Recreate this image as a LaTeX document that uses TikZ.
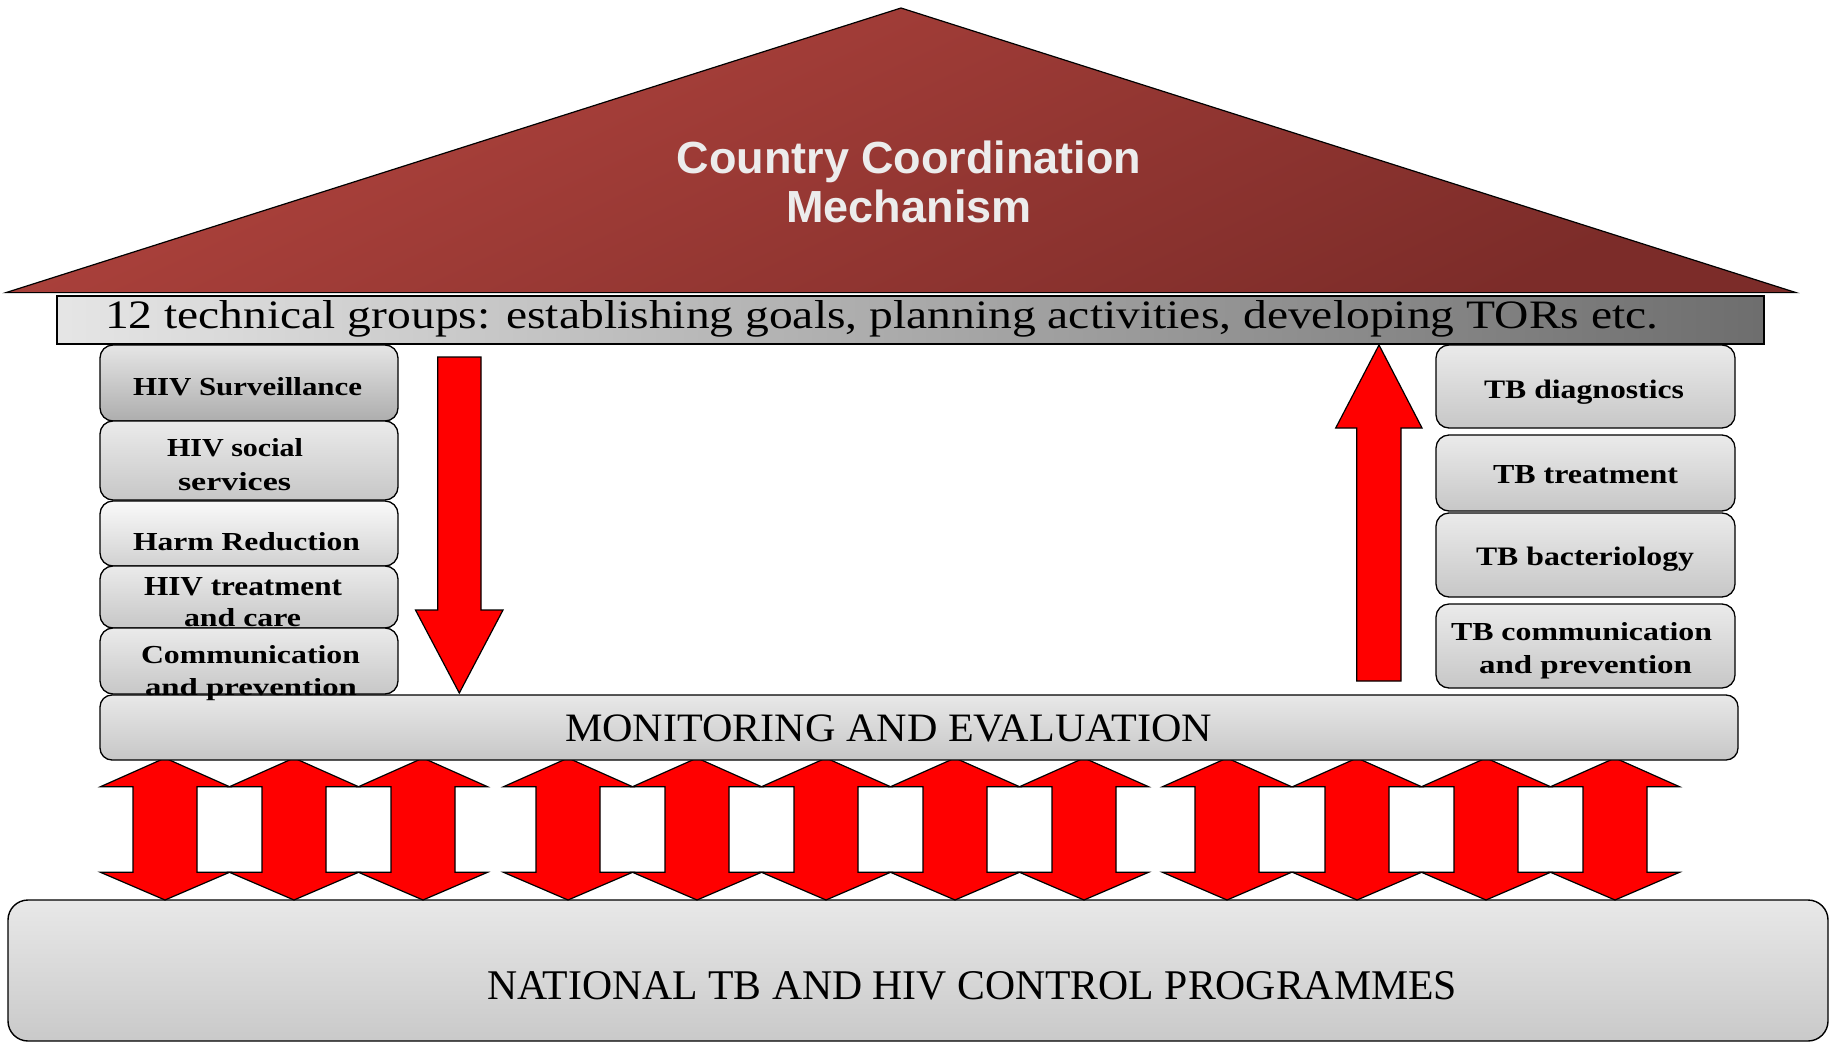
\documentclass[tikz,border=0pt]{standalone}
\usepackage{graphicx}
\usepackage{fontspec}
\setmainfont{Liberation Serif}
\newfontfamily\roofsans{Liberation Sans}
\newcommand{\fitbox}[3]{\resizebox{#1pt}{#2pt}{#3\vphantom{H}}}
\definecolor{arrowred}{RGB}{255,0,0}
\definecolor{roofhi}{RGB}{178,68,62}
\definecolor{rooflo}{RGB}{124,44,41}
\definecolor{rooftext}{RGB}{236,236,236}
\begin{document}
\begin{tikzpicture}[x=1pt,y=-1pt,
  greybox/.style={draw=black,line width=1.3pt,rounded corners=13pt,top color=black!8,bottom color=black!22},
  txt/.style={anchor=base west,inner sep=0pt,outer sep=0pt},
  redarrow/.style={fill=arrowred,draw=black,line width=1.2pt,line join=miter}]
\useasboundingbox (0,0) rectangle (1835,1041);
\clip (0,0) rectangle (1835,1041);
\fill[white] (0,0) rectangle (1835,1041);

% base: national programmes
\draw[line width=1.4pt,rounded corners=20pt,top color=black!9,bottom color=black!21]
  (8,900) rectangle (1828,1041);
\node[txt] (nat) at (487,999) {\fitbox{970}{28}{NATIONAL TB AND HIV CONTROL PROGRAMMES}};

% double arrows
\foreach \c in {165,294,423,568,697,826,955,1084,1227,1357,1486,1615}{
  \draw[redarrow] (\c-32,786.7) -- (\c-64.5,786.7) -- (\c,758) -- (\c+64.5,786.7) -- (\c+32,786.7)
    -- (\c+32,872.3) -- (\c+64.5,872.3) -- (\c,900) -- (\c-64.5,872.3) -- (\c-32,872.3) -- cycle;
}

% roof
\draw[line width=1.2pt,line join=miter,top color=roofhi,bottom color=rooflo,shading angle=25]
  (901,8) -- (1796,292.6) -- (6,292.6) -- cycle;
\node[anchor=base,inner sep=0pt,text=rooftext] (ccm1) at (909,173.5)
  {\roofsans\bfseries\fontsize{45}{50}\selectfont Country Coordination};
\node[anchor=base,inner sep=0pt,text=rooftext] (ccm2) at (909,222)
  {\roofsans\bfseries\fontsize{45}{50}\selectfont Mechanism};

% technical groups bar
\draw[line width=2.2pt,left color=black!10,right color=black!57] (57,296) rectangle (1764,344);
\node[txt] (tg) at (105,328.3) {\fitbox{1553}{28}{\fontsize{39}{44}\selectfont 12 technical groups: establishing goals, planning activities, developing TORs etc.}};

% monitoring and evaluation
\draw[line width=1.3pt,rounded corners=12pt,top color=black!9,bottom color=black!22] (100,695) rectangle (1738,760);
\node[txt] (me) at (565,741.7) {\fitbox{647}{26.7}{MONITORING AND EVALUATION}};

% HIV boxes
\draw[greybox,top color=black!10,bottom color=black!32] (100,345) rectangle (398,421);
\node[txt] (h1) at (133,395) {\fitbox{229}{18}{\bfseries HIV Surveillance}};
\draw[greybox] (100,421) rectangle (398,500);
\node[txt] (h2a) at (167,456.7) {\fitbox{136}{18}{\bfseries HIV social}};
\node[txt] (h2b) at (178,490) {\fitbox{113}{18}{\bfseries services}};
\draw[greybox,top color=black!2,bottom color=black!18] (100,501) rectangle (398,566);
\node[txt] (h3) at (133,550) {\fitbox{227}{18}{\bfseries Harm Reduction}};
\draw[greybox] (100,566) rectangle (398,628);
\node[txt] (h4a) at (144,595) {\fitbox{198}{18}{\bfseries HIV treatment}};
\node[txt] (h4b) at (184,626.7) {\fitbox{117}{18}{\bfseries and care}};
\draw[greybox] (100,628) rectangle (398,694);
\node[txt] (h5a) at (141,663) {\fitbox{219}{18}{\bfseries Communication}};
\node[txt] (h5b) at (145,695) {\fitbox{212}{17}{\bfseries and prevention}};

% TB boxes
\draw[greybox] (1436,345) rectangle (1735,428);
\node[txt] (t1) at (1484,398.3) {\fitbox{200}{18.5}{\bfseries TB diagnostics}};
\draw[greybox] (1436,435) rectangle (1735,511);
\node[txt] (t2) at (1493,483.3) {\fitbox{185}{18}{\bfseries TB treatment}};
\draw[greybox] (1436,513) rectangle (1735,597);
\node[txt] (t3) at (1476,565.7) {\fitbox{218}{18.5}{\bfseries TB bacteriology}};
\draw[greybox] (1436,604) rectangle (1735,688);
\node[txt] (t4a) at (1451,640) {\fitbox{261}{18}{\bfseries TB communication}};
\node[txt] (t4b) at (1479,673.3) {\fitbox{213}{18}{\bfseries and prevention}};

% vertical arrows
\draw[redarrow] (437.7,357) -- (481,357) -- (481,610) -- (503,610) -- (459.3,693)
  -- (415.5,610) -- (437.7,610) -- cycle;
\draw[redarrow] (1356.7,681) -- (1356.7,428) -- (1335.7,428) -- (1379,345)
  -- (1422,428) -- (1401,428) -- (1401,681) -- cycle;
\end{tikzpicture}
\end{document}
